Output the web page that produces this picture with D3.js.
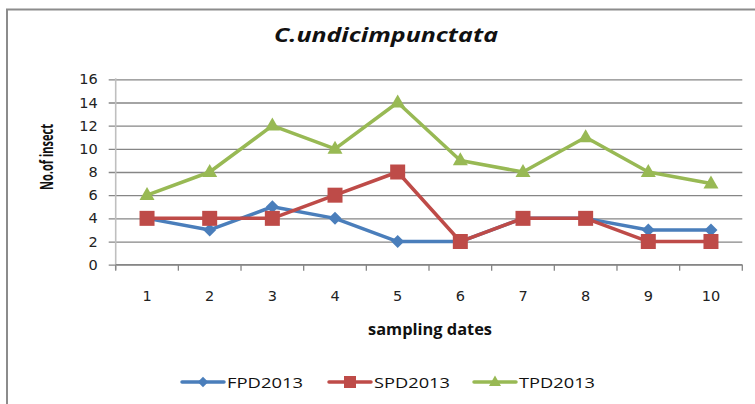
<!DOCTYPE html>
<html>
<head>
<meta charset="utf-8">
<script src="https://cdn.jsdelivr.net/npm/d3@7"></script>
<style>
  html, body { margin: 0; padding: 0; background: #fff; }
  svg { display: block; }
</style>
</head>
<body>
<svg id="chart" width="755" height="404"></svg>
<script>
const categories = ["1", "2", "3", "4", "5", "6", "7", "8", "9", "10"];
const fpd2013 = [4, 3, 5, 4, 2, 2, 4, 4, 3, 3];
const spd2013 = [4, 4, 4, 6, 8, 2, 4, 4, 2, 2];
const tpd2013 = [6, 8, 12, 10, 14, 9, 8, 11, 8, 7];
const yTicks = [0, 2, 4, 6, 8, 10, 12, 14, 16];
const seriesNames = ["FPD2013", "SPD2013", "TPD2013"];
const chartTitle = "C.undicimpunctata";
const xTitle = "sampling dates";
const yTitle = "No.of insect";

const series = [
  { name: seriesNames[0], values: fpd2013, color: "#4A7EBB", marker: "diamond" },
  { name: seriesNames[1], values: spd2013, color: "#BE4B48", marker: "square" },
  { name: seriesNames[2], values: tpd2013, color: "#98B954", marker: "triangle" }
];

const svg = d3.select("#chart");
const W = 755, H = 404;
const plot = { left: 115.7, right: 742.3, top: 79.3, bottom: 264.7 };

// outer border (left and top visible)
svg.append("path")
  .attr("d", `M7,${H} L7,9.5 L${W},9.5`)
  .attr("fill", "none").attr("stroke", "#8c8c8c").attr("stroke-width", 2);

const x = d3.scaleBand().domain(categories).range([plot.left, plot.right]).paddingInner(0).paddingOuter(0);
const y = d3.scaleLinear().domain([0, 16]).range([plot.bottom, plot.top]);

// gridlines + y ticks
const yAxis = d3.axisLeft(y).tickValues(yTicks).tickSize(-(plot.right - plot.left)).tickPadding(11).tickSizeOuter(0);
const yg = svg.append("g").attr("transform", `translate(${plot.left},0)`).call(yAxis);
yg.select(".domain").remove();
yg.selectAll(".tick line").attr("stroke", "#868686").attr("stroke-width", 1.3).attr("x1", -7);
yg.selectAll(".tick text")
  .attr("font-family", "DejaVu Sans, sans-serif").attr("font-size", 14.5).attr("fill", "#222")
  .attr("x", -18);

// y axis line
svg.append("line").attr("x1", plot.left).attr("x2", plot.left).attr("y1", plot.top - 1).attr("y2", plot.bottom + 5)
  .attr("stroke", "#bfbfbf").attr("stroke-width", 1.6);

// x axis
const xAxis = d3.axisBottom(x).tickSize(0).tickPadding(0);
const xg = svg.append("g").attr("transform", `translate(0,${plot.bottom})`).call(xAxis);
xg.select(".domain").remove();
xg.selectAll(".tick text")
  .attr("font-family", "DejaVu Sans, sans-serif").attr("font-size", 14.5).attr("fill", "#222")
  .attr("dy", null).attr("y", 36);
// boundary ticks
const bounds = categories.map(c => x(c)).concat([x(categories[categories.length - 1]) + x.bandwidth()]);
svg.append("g").selectAll("line").data(bounds).join("line")
  .attr("x1", d => d).attr("x2", d => d).attr("y1", plot.bottom).attr("y2", plot.bottom + 6)
  .attr("stroke", "#868686").attr("stroke-width", 1.3);
svg.append("line").attr("x1", plot.left).attr("x2", plot.right).attr("y1", plot.bottom).attr("y2", plot.bottom)
  .attr("stroke", "#868686").attr("stroke-width", 1.3);

// marker paths
function markerPath(type, cx, cy) {
  if (type === "diamond") {
    const r = 6.5;
    return `M${cx},${cy - r}L${cx + r},${cy}L${cx},${cy + r}L${cx - r},${cy}Z`;
  } else if (type === "square") {
    const s = 7.5;
    return `M${cx - s},${cy - s}H${cx + s}V${cy + s}H${cx - s}Z`;
  } else {
    const w = 7.5, h = 13;
    return `M${cx},${cy - h * 0.62}L${cx + w},${cy + h * 0.38}L${cx - w},${cy + h * 0.38}Z`;
  }
}

const line = d3.line().x((d, i) => x(categories[i]) + x.bandwidth() / 2).y(d => y(d));

series.forEach(s => {
  const g = svg.append("g");
  g.append("path").datum(s.values).attr("d", line)
    .attr("fill", "none").attr("stroke", s.color).attr("stroke-width", 3.5)
    .attr("stroke-linejoin", "round").attr("stroke-linecap", "round");
  g.selectAll("path.m").data(s.values).join("path").attr("class", "m")
    .attr("d", (d, i) => markerPath(s.marker, x(categories[i]) + x.bandwidth() / 2, y(d)))
    .attr("fill", s.color);
});

// title
svg.append("text").attr("x", 386).attr("y", 42).attr("text-anchor", "middle")
  .attr("font-family", "Open Sans, sans-serif").attr("font-weight", "bold").attr("font-style", "italic")
  .attr("font-size", 19).attr("textLength", 224).attr("lengthAdjust", "spacingAndGlyphs")
  .attr("fill", "#111").text(chartTitle);

// axis titles
svg.append("text").attr("transform", "translate(53,157) rotate(-90)").attr("text-anchor", "middle")
  .attr("font-family", "Open Sans, sans-serif").attr("font-weight", "bold").attr("font-size", 17.5)
  .attr("textLength", 66).attr("lengthAdjust", "spacingAndGlyphs")
  .attr("fill", "#111").text(yTitle);
svg.append("text").attr("x", 430).attr("y", 335).attr("text-anchor", "middle")
  .attr("font-family", "Open Sans, sans-serif").attr("font-weight", "bold").attr("font-size", 16)
  .attr("textLength", 124).attr("lengthAdjust", "spacingAndGlyphs")
  .attr("fill", "#111").text(xTitle);

// legend
const legendX = [182, 329, 474];
const legendY = 382;
series.forEach((s, i) => {
  const lx = legendX[i];
  svg.append("line").attr("x1", lx).attr("x2", lx + 42).attr("y1", legendY).attr("y2", legendY)
    .attr("stroke", s.color).attr("stroke-width", 3.5).attr("stroke-linecap", "round");
  svg.append("path").attr("d", markerPath(s.marker, lx + 21, legendY)).attr("fill", s.color)
    .attr("transform", `translate(${lx + 21},${legendY}) scale(0.8) translate(${-(lx + 21)},${-legendY})`);
  svg.append("text").attr("x", lx + 45).attr("y", legendY + 5.5)
    .attr("font-family", "Open Sans, sans-serif").attr("font-size", 15)
    .attr("textLength", 76).attr("lengthAdjust", "spacingAndGlyphs")
    .attr("fill", "#111").text(s.name);
});
</script>
</body>
</html>
